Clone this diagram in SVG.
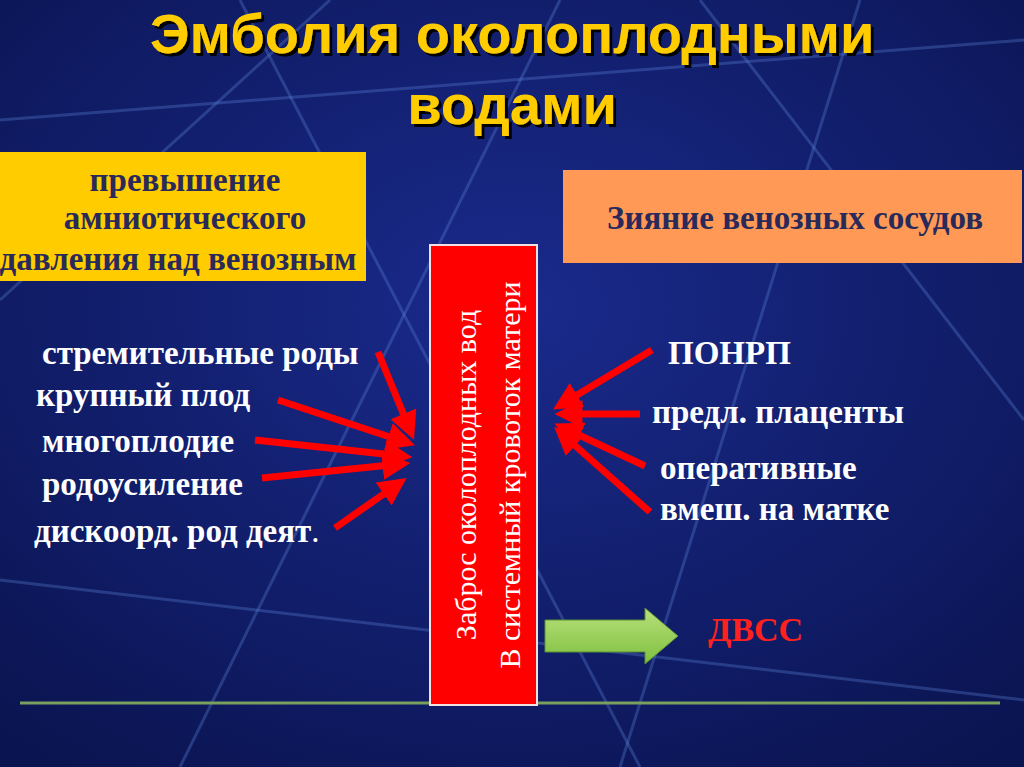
<svg xmlns="http://www.w3.org/2000/svg" width="1024" height="767" viewBox="0 0 1024 767">
<defs>
<radialGradient id="bg" cx="50%" cy="40%" r="75%"><stop offset="0" stop-color="#1a2a8c"/><stop offset="1" stop-color="#0a1450"/></radialGradient>
<linearGradient id="gr" x1="0" y1="0" x2="0" y2="1"><stop offset="0" stop-color="#b8e07a"/><stop offset="1" stop-color="#7fc040"/></linearGradient>
<filter id="sh"><feDropShadow dx="3" dy="3" stdDeviation="0.5" flood-color="#000"/></filter>
<marker id="ah" markerWidth="4" markerHeight="4" refX="2.5" refY="2" orient="auto" markerUnits="strokeWidth"><path d="M0,0 L4,2 L0,4 Z" fill="#ff0000"/></marker>
<style>
.bl{stroke:#5a7fd0;stroke-width:3;opacity:.35;fill:none}
.t{font-family:"Liberation Serif",serif;font-weight:bold;font-size:33px;fill:#ffffff}
.bx{font-family:"Liberation Serif",serif;font-weight:bold;font-size:33px;fill:#2a2a5a;text-anchor:middle}
.ar{stroke:#ff0000;stroke-width:7;fill:none;marker-end:url(#ah)}
</style>
</defs>
<rect width="1024" height="767" fill="url(#bg)"/>
<g id="bglines">
<line class="bl" x1="240" y1="0" x2="640" y2="767"/>
<line class="bl" x1="560" y1="0" x2="180" y2="767"/>
<line class="bl" x1="860" y1="0" x2="620" y2="767"/>
<line class="bl" x1="0" y1="120" x2="1024" y2="40"/>
<line class="bl" x1="0" y1="580" x2="1024" y2="700"/>
<line class="bl" x1="700" y1="0" x2="1024" y2="420"/>
<line class="bl" x1="0" y1="300" x2="330" y2="0"/>
</g>
<line x1="20" y1="703" x2="1000" y2="703" stroke="#7aa060" stroke-width="3"/>
<g id="title" font-family="Liberation Sans,Arial,sans-serif" font-weight="bold" font-size="56" text-anchor="middle" fill="#ffcc00" filter="url(#sh)">
<text x="512" y="53">Эмболия околоплодными</text>
<text x="512" y="124">водами</text>
</g>
<g id="left-box">
<rect x="0" y="152" width="366" height="129" fill="#ffcc00"/>
<text class="bx" x="185" y="191">превышение</text>
<text class="bx" x="185" y="229">амниотического</text>
<text class="bx" x="178" y="270">давления над венозным</text>
</g>
<g id="right-box">
<rect x="563" y="170" width="459" height="93" fill="#ff9955"/>
<text class="bx" x="795" y="229">Зияние венозных сосудов</text>
</g>
<g id="center">
<rect x="430" y="245" width="107" height="460" fill="#ff0000" stroke="#f0e0e0" stroke-width="2"/>
<g font-family="Liberation Serif,serif" font-size="30" fill="#ffffff" text-anchor="middle">
<text transform="translate(476,475) rotate(-90)">Заброс околоплодных вод</text>
<text transform="translate(520,475) rotate(-90)">В системный кровоток матери</text>
</g>
</g>
<g id="left-items">
<text class="t" x="42" y="364">стремительные роды</text>
<text class="t" x="36" y="406">крупный плод</text>
<text class="t" x="42" y="452">многоплодие</text>
<text class="t" x="42" y="495">родоусиление</text>
<text class="t" x="34" y="542">дискоорд. род деят<tspan font-weight="normal">.</tspan></text>
</g>
<g id="right-items">
<text class="t" x="668" y="364">ПОНРП</text>
<text class="t" x="652" y="423">предл. плаценты</text>
<text class="t" x="660" y="479">оперативные</text>
<text class="t" x="660" y="520">вмеш. на матке</text>
<text x="708" y="641" font-family="Liberation Serif,serif" font-weight="bold" font-size="34" fill="#ff2020">ДВСС</text>
</g>
<g id="connectors">
<line class="ar" x1="378" y1="352" x2="410" y2="430"/>
<line class="ar" x1="278" y1="400" x2="405" y2="442"/>
<line class="ar" x1="255" y1="440" x2="402" y2="456"/>
<line class="ar" x1="262" y1="478" x2="400" y2="464"/>
<line class="ar" x1="335" y1="528" x2="398" y2="484"/>
<line class="ar" x1="652" y1="350" x2="562" y2="404"/>
<line class="ar" x1="640" y1="414" x2="565" y2="414"/>
<line class="ar" x1="645" y1="466" x2="564" y2="428"/>
<line class="ar" x1="650" y1="512" x2="562" y2="434"/>
<path d="M545,620 L645,620 L645,608 L678,636 L645,664 L645,652 L545,652 Z" fill="url(#gr)" stroke="#5a9030" stroke-width="1"/>
</g>
</svg>
